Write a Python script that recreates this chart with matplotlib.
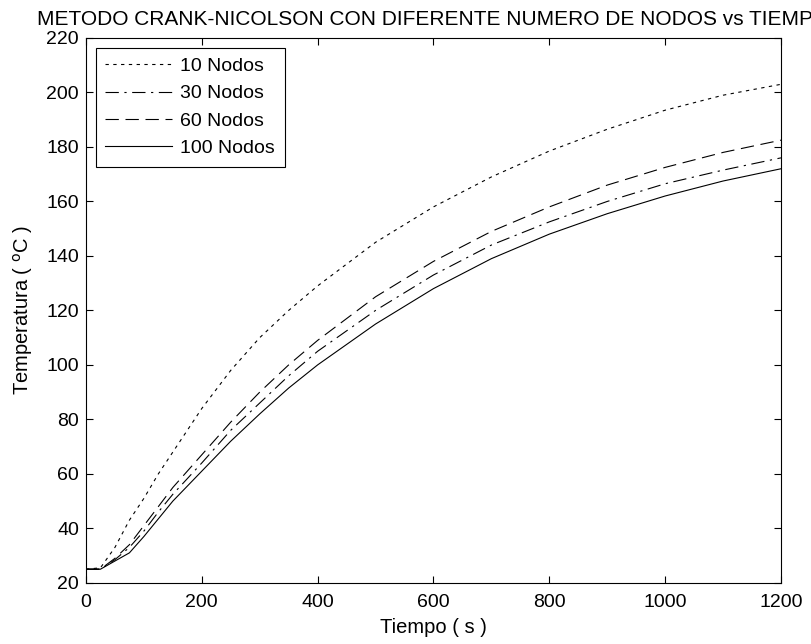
import matplotlib
matplotlib.use("Agg")
from matplotlib import pyplot as plt

# tiempo (s) y temperatura (C)
tiempo = [0, 25, 50, 75, 100, 125, 150, 200, 250, 300, 350, 400, 500, 600, 700, 800, 900, 1000, 1100, 1200]
t_10 = [25, 25.5, 33, 43, 51, 60, 68, 84, 98, 110, 120, 129, 145, 158, 169, 178.5, 186.5, 193.5, 199, 203]
t_30 = [25, 25, 28.5, 33, 39, 46, 52.5, 64, 76, 86, 96, 105, 120, 133, 144, 152.5, 160, 166.5, 171.5, 176]
t_60 = [25, 25, 29, 34, 41, 48, 55, 67, 79, 90, 100, 109, 125, 138, 149, 158, 166, 172.5, 178, 182.5]
t_100 = [25, 25, 28, 31, 37, 43.5, 50, 61, 72, 82, 91.5, 100, 115, 128, 139, 148, 155.5, 162, 167.5, 172]

plt.rcParams['font.family'] = ['Liberation Sans', 'DejaVu Sans']
plt.rcParams['font.size'] = 14

fig = plt.figure(figsize=(8.11, 6.44), dpi=100)
ax = fig.add_axes([0.106, 0.095, 0.857, 0.846])

ax.plot(tiempo, t_10, color='k', lw=0.8, dashes=(3, 4), label='10 Nodos')
ax.plot(tiempo, t_30, color='k', lw=0.8, dashes=(12, 5, 2, 5), label='30 Nodos')
ax.plot(tiempo, t_60, color='k', lw=0.8, dashes=(12, 6), label='60 Nodos')
ax.plot(tiempo, t_100, color='k', lw=0.8, label='100 Nodos')

ax.set_xlim(0, 1200)
ax.set_ylim(20, 220)
ax.set_xticks(range(0, 1201, 200))
ax.set_yticks(range(20, 221, 20))
ax.tick_params(direction='in', top=True, right=True, length=5, width=0.8, labelsize=14)
ax.tick_params(axis='x', pad=8)
ax.tick_params(axis='y', pad=5)
for s in ax.spines.values():
    s.set_linewidth(0.8)

ax.set_xlabel("Tiempo ( s )", fontsize=14.5, labelpad=5)
ax.set_ylabel("Temperatura ( $^{\\mathrm{o}}$C )", fontsize=14.5, labelpad=8)
# el titulo queda recortado por la derecha como en el original
ax.set_title("METODO CRANK-NICOLSON CON DIFERENTE NUMERO DE NODOS vs TIEMPO",
             fontsize=15, pad=9)

leg = ax.legend(loc='upper left', fancybox=False, edgecolor='k', framealpha=1,
                handlelength=3.4, handletextpad=0.45, borderaxespad=0.5,
                borderpad=0.5, labelspacing=0.5, fontsize=14)
leg.get_frame().set_linewidth(0.8)

fig.savefig("out.png", dpi=100)
